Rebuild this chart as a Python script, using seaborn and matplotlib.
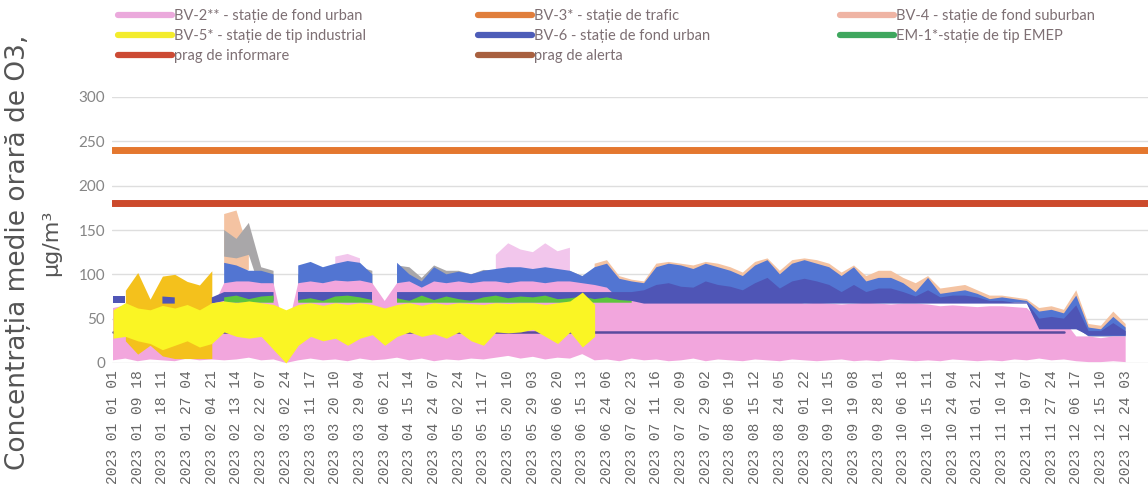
import numpy as np
import pandas as pd
import matplotlib
matplotlib.use("Agg")
import matplotlib.pyplot as plt
from matplotlib.lines import Line2D
import seaborn as sns

nan = np.nan

# etichete axa x (una la fiecare 209 ore)
etichete_x = [
    "2023 01 01 01", "2023 01 09 18", "2023 01 18 11", "2023 01 27 04", "2023 02 04 21",
    "2023 02 13 14", "2023 02 22 07", "2023 03 02 24", "2023 03 11 17", "2023 03 20 10",
    "2023 03 29 04", "2023 04 06 21", "2023 04 15 14", "2023 04 24 07", "2023 05 02 24",
    "2023 05 11 17", "2023 05 20 10", "2023 05 29 03", "2023 06 06 20", "2023 06 15 13",
    "2023 06 24 06", "2023 07 02 23", "2023 07 11 16", "2023 07 20 09", "2023 07 29 02",
    "2023 08 06 19", "2023 08 15 12", "2023 08 24 05", "2023 09 01 22", "2023 09 10 15",
    "2023 09 19 08", "2023 09 28 01", "2023 10 06 18", "2023 10 15 11", "2023 10 24 04",
    "2023 11 01 21", "2023 11 10 14", "2023 11 19 07", "2023 11 27 24", "2023 12 06 17",
    "2023 12 15 10", "2023 12 24 03",
]
ore_intre_etichete = 209
ore_intre_esantioane = 104.5   # valori citite la jumatate de interval

prag_informare = 180
prag_alerta = 240

# BV-2 (roz) - anvelopa valorilor orare
roz_jos = [3, 5, 2, 4, 3, 2, 5, 3, 4, 3,
           4, 6, 3, 4, 0, 3, 5, 3, 4, 2,
           5, 3, 4, 6, 3, 5, 2, 4, 3, 5,
           4, 6, 8, 5, 7, 4, 6, 5, 10, 3,
           4, 2, 5, 3, 4, 2, 3, 5, 2, 4,
           3, 2, 4, 3, 2, 4, 3, 2, 3, 4,
           2, 3, 2, 4, 3, 2, 3, 2, 4, 3,
           2, 3, 2, 4, 3, 5, 3, 4, 2, 1,
           1, 2, 1, nan, 4]
roz_sus = [62, 65, 68, 62, 60, 62, 55, 50, 60, 90,
           92, 92, 90, 90, 30, 90, 92, 90, 93, 92,
           93, 90, 70, 90, 92, 85, 92, 90, 92, 90,
           92, 92, 90, 92, 92, 90, 92, 92, 90, 88,
           85, 72, 70, 71, 69, 70, 72, 70, 69, 71,
           70, 70, 71, 70, 69, 70, 67, 68, 67, 66,
           67, 68, 67, 66, 67, 67, 66, 64, 65, 64,
           63, 64, 64, 63, 62, 48, 50, 48, 30, 30,
           28, 30, 30, nan, 58]
roz_deschis_jos = [nan] * 18 + [90] * 3 + [nan] * 10 + [92] * 7 + [nan] * 47
roz_deschis_sus = [nan] * 18 + [120, 123, 118] + [nan] * 10 + \
    [122, 135, 128, 125, 135, 126, 130] + [nan] * 47

# BV-5 (galben)
galben_jos = [28, 30, 25, 22, 15, 20, 25, 18, 22, 35,
              30, 28, 30, 15, 0, 20, 30, 25, 28, 20,
              28, 32, 20, 30, 35, 30, 33, 28, 35, 25,
              20, 35, 34, 35, 38, 30, 22, 35, 18, 30] + [nan] * 45
galben_sus = [60, 68, 62, 60, 65, 62, 66, 60, 68, 70,
              68, 70, 68, 66, 60, 66, 68, 65, 68, 66,
              68, 66, 62, 66, 68, 65, 68, 66, 68, 67,
              66, 68, 67, 68, 68, 66, 68, 70, 80, 66] + [nan] * 45

# banda aurie (ian-feb)
auriu_jos = [nan, 25, 10, 20, 8, 5, 5, 5, 5] + [nan] * 76
auriu_sus = [nan, 82, 102, 72, 98, 100, 92, 88, 104] + [nan] * 76

# BV-6 (albastru inchis - banda de baza)
albastru_inchis_jos = [68, 68, nan, nan, 67, 67, nan, nan, 67, 70, 70, 70, 70, 70, nan] + \
    [70] * 7 + [nan] + [70] * 20 + [67] * 32 + [38] * 4 + [31] * 4 + [nan, 42]
albastru_inchis_sus = [76, 76, nan, nan, 75, 74, nan, nan, 74, 80, 80, 80, 80, 80, nan] + \
    [80] * 7 + [nan] + [80] * 20 + \
    [82, 88, 90, 86, 85, 92, 88, 86, 82, 90,
     96, 84, 92, 95, 92, 88, 80, 88, 80, 84,
     84, 80, 75, 82, 74, 76, 76, 74, 70, 70,
     68, 68, 50, 52, 50, 65, 36, 36, 45, 36,
     nan, 62]

# BV-6 (varfuri albastre)
albastru_jos = [nan] * 9 + [78] * 30 + [68] * 36 + [40] * 4 + [30] * 4 + [nan, 45]
albastru_sus = [nan] * 9 + [
    113, 110, 104, 104, 100, nan, 110, 114, 108, 112,
    115, 113, 100, nan, 113, 100, 92, 108, 100, 103,
    100, 104, 106, 108, 108, 106, 108, 106, 104, 98,
    108, 112, 95, 92, 90, 108, 112, 110, 106, 112,
    108, 104, 98, 110, 116, 100, 112, 116, 112, 108,
    98, 108, 92, 96, 96, 90, 80, 96, 78, 80,
    82, 78, 72, 74, 72, 70, 58, 60, 56, 76,
    40, 38, 52, 40, nan, 68]

# BV-4 (varfuri gri / piersica)
gri_jos = [nan] * 9 + [120, 118, 122] + [80] * 27 + [nan] * 46
gri_sus = [nan] * 9 + [
    150, 140, 158, 108, 104, nan, 100, 108, 100, 105,
    105, 108, 104, nan, 110, 108, 96, 110, 104, 104,
    100, 105, 104, 105, 104, 104, 106, 104, 104, 98] + [nan] * 46
piersica_jos = [nan] * 9 + [105] * 3 + [nan] * 27 + [68] * 36 + [40] * 4 + [30] * 4 + [nan, 45]
piersica_sus = [nan] * 9 + [168, 172, 125] + [nan] * 27 + [
    112, 116, 98, 94, 92, 112, 114, 112, 110, 114,
    112, 108, 102, 114, 118, 104, 116, 118, 116, 112,
    102, 110, 98, 104, 104, 96, 90, 98, 84, 86,
    88, 82, 76, 76, 74, 72, 62, 64, 60, 82,
    44, 42, 58, 44, nan, 70]

# EM-1 (verde)
verde_jos = [nan] * 9 + [68] * 34 + [nan] * 42
verde_sus = [nan] * 9 + [
    74, 76, 72, 75, 76, nan, 71, 73, 70, 75,
    76, 74, 71, nan, 73, 70, 76, 71, 75, 72,
    70, 74, 76, 73, 75, 74, 76, 72, 73, 75,
    72, 74, 71, 70] + [nan] * 42

# linia violet de la ~35
violet = [35] * 78 + [nan] * 7

df = pd.DataFrame({
    "ora": np.arange(len(roz_sus)) * ore_intre_esantioane,
    "roz_jos": roz_jos, "roz_sus": roz_sus,
    "roz_deschis_jos": roz_deschis_jos, "roz_deschis_sus": roz_deschis_sus,
    "galben_jos": galben_jos, "galben_sus": galben_sus,
    "auriu_jos": auriu_jos, "auriu_sus": auriu_sus,
    "albastru_inchis_jos": albastru_inchis_jos, "albastru_inchis_sus": albastru_inchis_sus,
    "albastru_jos": albastru_jos, "albastru_sus": albastru_sus,
    "gri_jos": gri_jos, "gri_sus": gri_sus,
    "piersica_jos": piersica_jos, "piersica_sus": piersica_sus,
    "verde_jos": verde_jos, "verde_sus": verde_sus,
    "violet": violet,
})

sns.set_theme(style="white")
plt.rcParams["font.family"] = ["Lato", "DejaVu Sans"]

fig = plt.figure(figsize=(11.48, 4.95), dpi=100)
ax = fig.add_axes([112 / 1148, 132 / 495, 1036 / 1148, 266 / 495])

# ordinea straturilor (din spate in fata)
straturi_spate = [
    ("piersica", "#F4C3A2"),
    ("gri", "#A9A7A9"),
    ("roz_deschis", "#F2C6EC"),
    ("albastru", "#5275D2"),
    ("roz", "#F2A6DD"),
    ("auriu", "#F4C11C"),
    ("albastru_inchis", "#4F55B6"),
    ("verde", "#5DC53D"),
]
for nume, culoare in straturi_spate:
    ax.fill_between(df["ora"], df[nume + "_jos"], df[nume + "_sus"],
                    color=culoare, lw=0, zorder=2)

sns.lineplot(data=df, x="ora", y="violet", color="#5A4B9E", lw=1.8, ax=ax, zorder=3)

ax.fill_between(df["ora"], df["galben_jos"], df["galben_sus"],
                color="#FAF524", lw=0, zorder=4)

ax.axhline(prag_alerta, color="#E4772E", lw=5, zorder=5)
ax.axhline(prag_informare, color="#CC4A2C", lw=5, zorder=5)

ax.set_xlim(-8.5, 8758)
ax.set_ylim(0, 300)
ax.set_yticks(range(0, 301, 50))
ax.yaxis.grid(True, color="#dedede", lw=1)
ax.set_axisbelow(True)
ax.set_xticks(np.arange(len(etichete_x)) * ore_intre_etichete)
ax.set_xticklabels(etichete_x, rotation=90, fontfamily="Liberation Mono",
                   fontsize=10.5, color="#666666")
ax.tick_params(axis="x", length=0, pad=5)
ax.tick_params(axis="y", length=0, pad=5, labelsize=11, labelcolor="#858585")
ax.set_xlabel("")
ax.set_ylabel("")
sns.despine(ax=ax, left=True, bottom=True)

fig.text(18 / 1148, 1 - 252 / 495, "Concentrația medie orară de O3,", rotation=90,
         rotation_mode="anchor", ha="center", va="center",
         fontsize=19, color="#555555", family="DejaVu Sans")
fig.text(51 / 1148, 1 - 243 / 495, "µg/m³", rotation=90,
         rotation_mode="anchor", ha="center", va="center",
         fontsize=16, color="#555555", family="DejaVu Sans")

# legenda pe trei coloane
coloane_legenda = [
    (118, [("BV-2** - stație de fond urban", "#EBA9DC"),
           ("BV-5* - stație de tip industrial", "#F3EC2C"),
           ("prag de informare", "#CC4A34")]),
    (478, [("BV-3* - stație de trafic", "#E07E3C"),
           ("BV-6 - stație de fond urban", "#4D5DB8"),
           ("prag de alerta", "#A8603F")]),
    (840, [("BV-4 - stație de fond suburban", "#EFB4A4"),
           ("EM-1*-stație de tip EMEP", "#3FA75E")]),
]
for x_px, intrari in coloane_legenda:
    handles = [Line2D([], [], color=c, lw=4.5, solid_capstyle="round") for _, c in intrari]
    labels = [t for t, _ in intrari]
    fig.legend(handles, labels, loc="upper left",
               bbox_to_anchor=(x_px / 1148, 1 - 9 / 495),
               frameon=False, fontsize=10.5, handlelength=3.7, handletextpad=0.15,
               labelspacing=0.4, borderpad=0, borderaxespad=0, labelcolor="#7d6f73")

fig.savefig("out.png", dpi=100)
